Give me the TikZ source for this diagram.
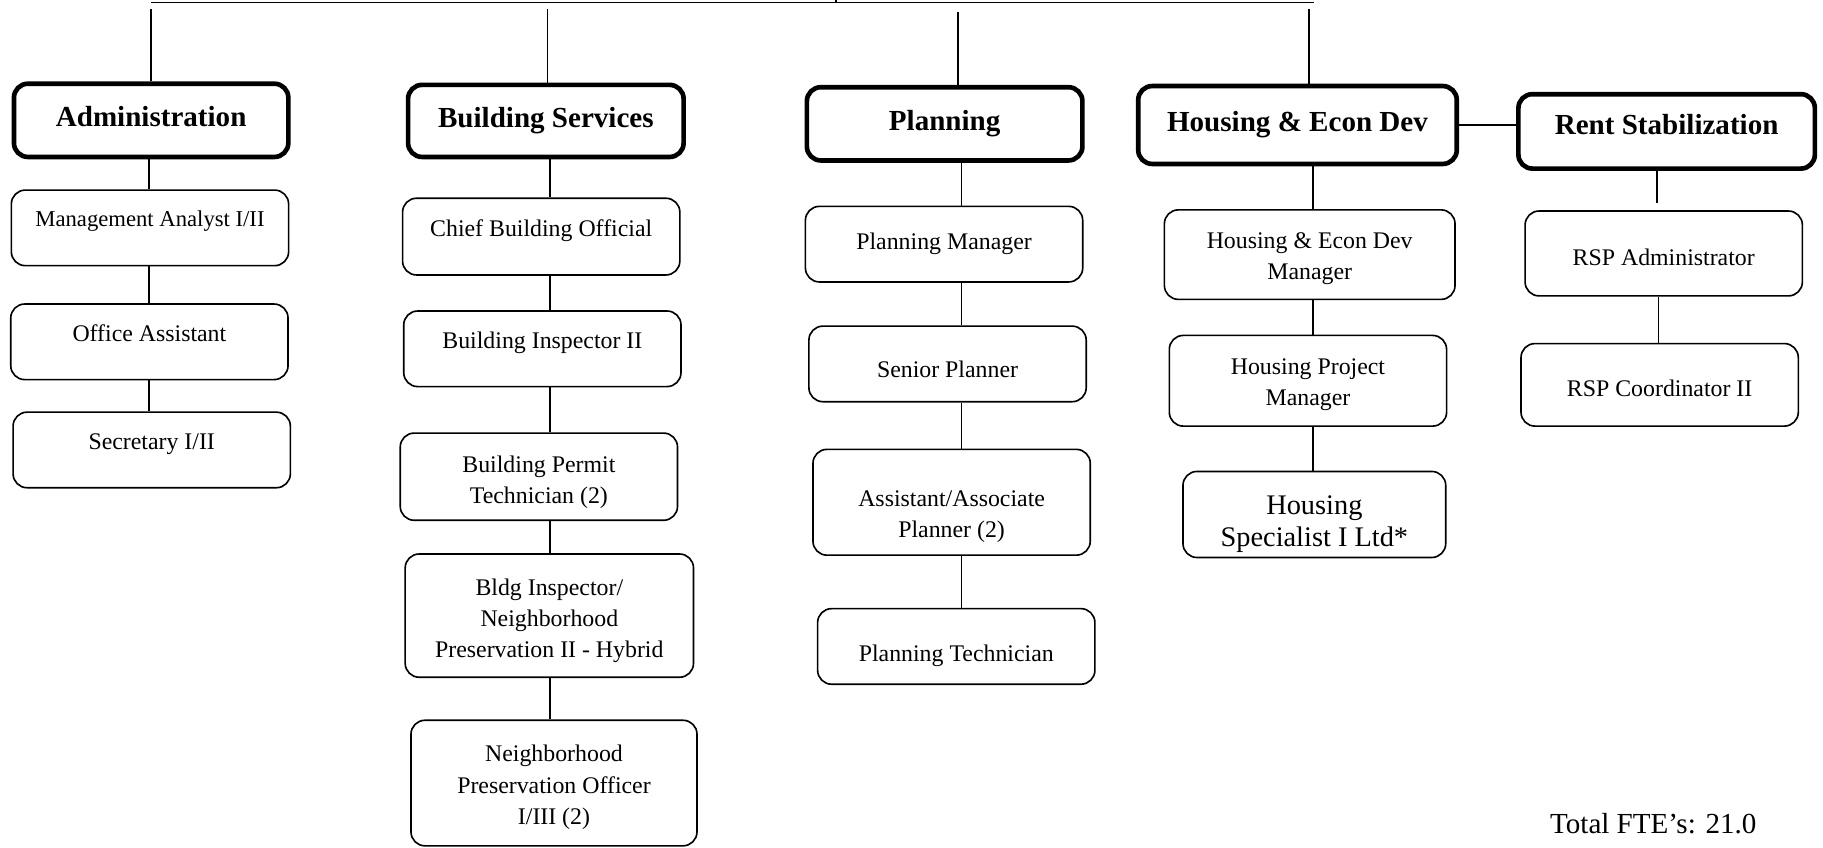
\documentclass[tikz,border=0pt]{standalone}
\usepackage{fontspec}
\setmainfont{Liberation Serif}
\begin{document}
\begin{tikzpicture}[x=1pt, y=-1pt,
        dept/.style={draw, line width=4pt, rounded corners=12pt, text height=11pt, text depth=0pt, font=\fontsize{25}{30}\selectfont\bfseries},
        post/.style={draw, line width=1.4pt, rounded corners=12pt, minimum width=238.5pt, minimum height=65pt, align=center, font=\fontsize{20.5}{27}\selectfont},
        sink/.style={text height=#1, text depth=0pt},
        link/.style={line width=1.4pt}
    ]
        \useasboundingbox (0,0) rectangle (1568,729);

        % Top bar
        \coordinate (top) at (719,0);
        \coordinate (barl) at (130,2);
        \coordinate (barr) at (1130,2);
        \draw[link] (barl) -- (barr);
        \draw[link] (top) -- (top |- barl);

        % Departments
        \node[dept, minimum width=236pt, minimum height=63pt] (admin) at (130,103.5) {Administration};
        \node[dept, minimum width=237pt, minimum height=62pt] (bldg) at (469.5,104) {Building Services};
        \node[dept, minimum width=237pt, minimum height=63pt] (plan) at (812.5,106.5) {Planning};
        \node[dept, minimum width=274pt, minimum height=67pt] (housing) at (1116,107.5) {Housing \& Econ Dev};
        \node[dept, minimum width=255pt, minimum height=64pt, sink=5pt] (rent) at (1433.5,113) {Rent Stabilization};
        \draw[link] (housing.east) -- (housing.east -| rent.west);

        % Feeds from the bar
        \coordinate (fa) at (130,8);
        \coordinate (fb) at (471,8);
        \coordinate (fp) at (824,10);
        \coordinate (fh) at (1126,8);
        \draw[link] (fa) -- (fa |- admin.north);
        \draw[link] (fb) -- (fb |- bldg.north);
        \draw[link] (fp) -- (fp |- plan.north);
        \draw[link] (fh) -- (fh |- housing.north);

        % Administration
        \coordinate (acol) at (128,0);
        \node[post, sink=0pt, text depth=2pt, font=\fontsize{19.5}{26}\selectfont] (ma) at (129,196) {Management Analyst I/II};
        \node[post, sink=0pt] (oa) at (128.5,294) {Office Assistant};
        \node[post, sink=0pt] (sec) at (130.5,387) {Secretary I/II};
        \draw[link] (admin.south -| acol) -- (ma.north -| acol);
        \draw[link] (ma.south -| acol) -- (oa.north -| acol);
        \draw[link] (oa.south -| acol) -- (sec.north -| acol);

        % Building Services
        \coordinate (bcol) at (473,0);
        \node[post, minimum height=66pt, sink=0pt] (cbo) at (465.5,203.5) {Chief Building Official};
        \node[post, sink=0pt] (bi) at (466.5,300) {Building Inspector II};
        \node[post, minimum height=75pt] (bpt) at (463.5,410) {\rule{0pt}{24pt}Building Permit\\Technician (2)};
        \node[post, minimum width=248pt, minimum height=106pt] (np2) at (472.5,529.5) {\rule{0pt}{23pt}Bldg Inspector/\\Neighborhood\\Preservation II - Hybrid};
        \node[post, minimum width=246pt, minimum height=108pt] (npo) at (476.5,673.5) {\rule{0pt}{22pt}Neighborhood\\Preservation Officer\\I/III (2)};
        \draw[link] (bldg.south -| bcol) -- (cbo.north -| bcol);
        \draw[link] (cbo.south -| bcol) -- (bi.north -| bcol);
        \draw[link] (bi.south -| bcol) -- (bpt.north -| bcol);
        \draw[link] (bpt.south -| bcol) -- (np2.north -| bcol);
        \draw[link] (np2.south -| bcol) -- (npo.north -| bcol);

        % Planning
        \coordinate (pcol) at (827,0);
        \node[post] (pm) at (812,210) {Planning Manager};
        \node[post, sink=24pt] (sp) at (815,313) {Senior Planner};
        \node[post, minimum height=91pt] (aap) at (818.5,432) {\rule{0pt}{38pt}Assistant/Associate\\Planner (2)};
        \node[post, sink=26pt] (pt) at (822.5,556) {Planning Technician};
        \draw[link] (plan.south -| pcol) -- (pm.north -| pcol);
        \draw[link] (pm.south -| pcol) -- (sp.north -| pcol);
        \draw[link] (sp.south -| pcol) -- (aap.north -| pcol);
        \draw[link] (aap.south -| pcol) -- (pt.north -| pcol);

        % Housing & Econ Dev
        \coordinate (hcol) at (1129.5,0);
        \node[post, minimum width=250pt, minimum height=77pt] (hedm) at (1126.5,219) {\rule{0pt}{21pt}Housing \& Econ Dev\\Manager};
        \node[post, minimum height=78pt] (hpm) at (1125,327.5) {\rule{0pt}{20pt}Housing Project\\Manager};
        \node[post, minimum width=226pt, minimum height=74pt, font=\fontsize{24.4}{28}\selectfont] (hs) at (1130.5,442.5) {\rule{0pt}{33pt}Housing\\Specialist I Ltd*};
        \draw[link] (housing.south -| hcol) -- (hedm.north -| hcol);
        \draw[link] (hedm.south -| hcol) -- (hpm.north -| hcol);
        \draw[link] (hpm.south -| hcol) -- (hs.north -| hcol);

        % Rent Stabilization
        \coordinate (rcol) at (1426.5,0);
        \coordinate (rend) at (1425,175);
        \node[post, minimum height=73pt, sink=20pt] (rspa) at (1431,218) {RSP Administrator};
        \node[post, minimum height=71pt, sink=20pt] (rspc) at (1427.5,331) {RSP Coordinator II};
        \draw[link] (rent.south -| rend) -- (rend);
        \draw[link] (rspa.south -| rcol) -- (rspc.north -| rcol);

        \node[font=\fontsize{25}{30}\selectfont] (fte) at (1422,708) {Total FTE’s: 21.0};
    \end{tikzpicture}
\end{document}
